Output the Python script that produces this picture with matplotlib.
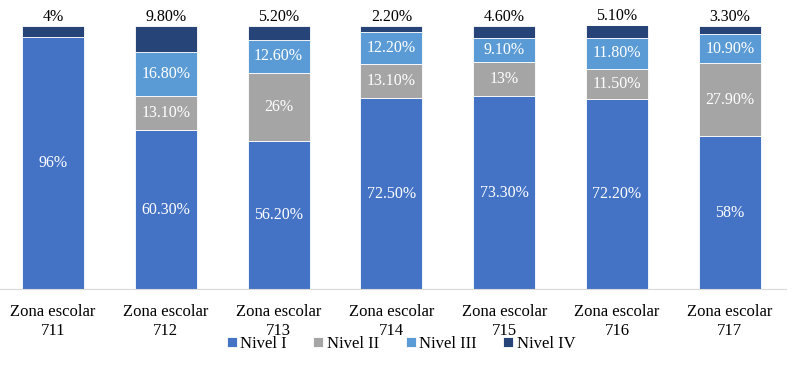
import numpy as np
import matplotlib.pyplot as plt

plt.rcParams['font.family'] = ['Liberation Serif', 'DejaVu Serif']

zonas = ['Zona escolar\n711', 'Zona escolar\n712', 'Zona escolar\n713', 'Zona escolar\n714',
         'Zona escolar\n715', 'Zona escolar\n716', 'Zona escolar\n717']
nivel1 = [96, 60.3, 56.2, 72.5, 73.3, 72.2, 58]
nivel2 = [0, 13.1, 26, 13.1, 13, 11.5, 27.9]
nivel3 = [0, 16.8, 12.6, 12.2, 9.1, 11.8, 10.9]
nivel4 = [4, 9.8, 5.2, 2.2, 4.6, 5.1, 3.3]

series = [nivel1, nivel2, nivel3, nivel4]
names = ['Nivel I', 'Nivel II', 'Nivel III', 'Nivel IV']
colors = ['#4472C4', '#A5A5A5', '#5B9BD5', '#264478']


def fmt(v):
    if float(v).is_integer():
        return '%d%%' % v
    return '%.2f%%' % v


fig = plt.figure(figsize=(8.02, 3.69), dpi=100)
ax = fig.add_axes([0.0, 0.2168, 0.98, 0.7127])

x = np.arange(len(zonas))
bottom = np.zeros(len(zonas))
for k, (vals, name, c) in enumerate(zip(series, names, colors)):
    vals = np.array(vals, dtype=float)
    ax.bar(x, vals, 0.55, bottom=bottom, color=c, label=name, edgecolor='white', linewidth=0.6)
    for i, v in enumerate(vals):
        if v == 0:
            continue
        if k == 3:
            ax.text(x[i], bottom[i] + v + 0.3, fmt(v), ha='center', va='bottom', fontsize=11.5, color='black')
        else:
            ax.text(x[i], bottom[i] + v / 2, fmt(v), ha='center', va='center', fontsize=11.5, color='white')
    bottom += vals

ax.set_xlim(-0.47, 6.498)
ax.set_ylim(0, 100)
ax.set_xticks(x)
ax.set_xticklabels(zonas, fontsize=12, linespacing=1.2)
ax.tick_params(axis='x', length=0, pad=11)
ax.set_yticks([])
for s in ['top', 'right', 'left']:
    ax.spines[s].set_visible(False)
ax.spines['bottom'].set_color('#D9D9D9')

fig.legend(loc='center', bbox_to_anchor=(0.5, 0.068), ncol=4, frameon=False, fontsize=12,
           handlelength=0.6, handleheight=0.6, handletextpad=0.2, columnspacing=1.6)

fig.savefig('out.png', dpi=100)
